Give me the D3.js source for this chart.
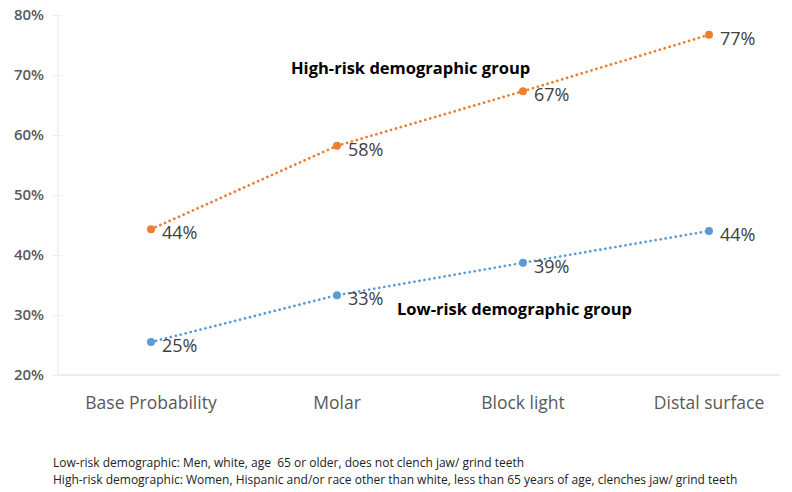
<!DOCTYPE html>
<html>
<head>
<meta charset="utf-8">
<script src="https://cdn.jsdelivr.net/npm/d3@7"></script>
<style>
  body { margin: 0; background: #fff; }
  svg text { font-family: "Open Sans", sans-serif; }
</style>
</head>
<body>
<svg id="chart" width="792" height="492"></svg>
<script>
var categories = ["Base Probability", "Molar", "Block light", "Distal surface"];
var highRisk = [44.3, 58.2, 67.3, 76.7];
var lowRisk = [25.5, 33.3, 38.7, 44.0];
var highLabels = ["44%", "58%", "67%", "77%"];
var lowLabels = ["25%", "33%", "39%", "44%"];
var yTicks = [20, 30, 40, 50, 60, 70, 80];
var notes = [
  "Low-risk demographic: Men, white, age  65 or older, does not clench jaw/ grind teeth",
  "High-risk demographic: Women, Hispanic and/or race other than white, less than 65 years of age, clenches jaw/ grind teeth"
];

var svg = d3.select("#chart");
var plotLeft = 58, plotRight = 802, plotTop = 15, plotBottom = 375;

var x = d3.scaleBand().domain(categories).range([plotLeft, plotRight]);
var y = d3.scaleLinear().domain([20, 80]).range([plotBottom, plotTop]);

// axis lines
svg.append("line")
  .attr("x1", plotLeft).attr("x2", 780)
  .attr("y1", y(20)).attr("y2", y(20))
  .attr("stroke", "#e6e6e6").attr("stroke-width", 1.5);
svg.append("line")
  .attr("x1", plotLeft).attr("x2", plotLeft)
  .attr("y1", y(80)).attr("y2", y(20))
  .attr("stroke", "#eeeeee").attr("stroke-width", 1.5);

var yAxis = svg.append("g").attr("transform", "translate(" + (plotLeft + 4) + ",0)")
  .call(d3.axisLeft(y).tickValues(yTicks).tickFormat(function(d) { return d + "%"; }).tickSize(10).tickPadding(8));
yAxis.select(".domain").remove();
yAxis.selectAll(".tick line").attr("stroke", "#eeeeee");
yAxis.selectAll(".tick text")
  .attr("fill", "#595959").attr("font-size", 15).attr("font-weight", 600);

svg.selectAll(".cat").data(categories).enter().append("text")
  .attr("class", "cat")
  .attr("x", function(d) { return x(d) + x.bandwidth() / 2; })
  .attr("y", 409)
  .attr("text-anchor", "middle")
  .attr("fill", "#595959").attr("font-size", 17.5)
  .text(function(d) { return d; });

function drawSeries(values, labels, color) {
  var pts = values.map(function(v, i) { return [x(categories[i]) + x.bandwidth() / 2, y(v)]; });
  svg.append("path")
    .attr("d", d3.line()(pts))
    .attr("fill", "none").attr("stroke", color)
    .attr("stroke-width", 2.7).attr("stroke-linecap", "round")
    .attr("stroke-dasharray", "0.1 5");
  svg.selectAll(null).data(pts).enter().append("circle")
    .attr("cx", function(d) { return d[0]; })
    .attr("cy", function(d) { return d[1]; })
    .attr("r", 4).attr("fill", color);
  svg.selectAll(null).data(pts).enter().append("text")
    .attr("x", function(d) { return d[0] + 11; })
    .attr("y", function(d) { return d[1] + 10; })
    .attr("fill", "#404040").attr("font-size", 18)
    .text(function(d, i) { return labels[i]; });
}

drawSeries(highRisk, highLabels, "#ED7D31");
drawSeries(lowRisk, lowLabels, "#5B9BD5");

svg.append("text").attr("x", 291).attr("y", 74)
  .attr("font-size", 16.5).attr("font-weight", "bold").attr("fill", "#000")
  .text("High-risk demographic group");
svg.append("text").attr("x", 397).attr("y", 315)
  .attr("font-size", 16.5).attr("font-weight", "bold").attr("fill", "#000")
  .text("Low-risk demographic group");

svg.selectAll(".note").data(notes).enter().append("text")
  .attr("class", "note")
  .attr("x", 53)
  .attr("y", function(d, i) { return 467 + i * 17; })
  .attr("font-size", 12).attr("fill", "#222")
  .style("white-space", "pre")
  .text(function(d) { return d; });
</script>
</body>
</html>
